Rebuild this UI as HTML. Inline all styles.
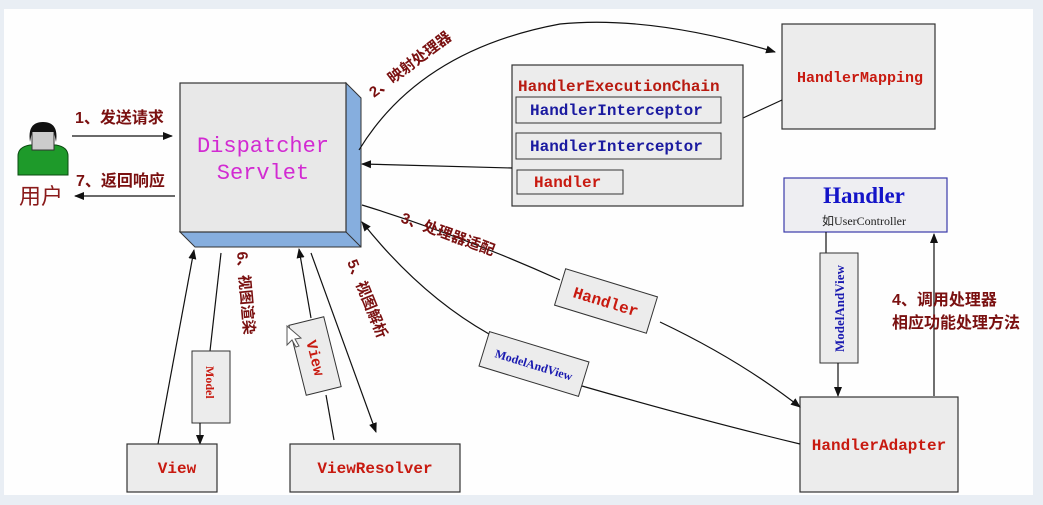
<!DOCTYPE html>
<html><head><meta charset="utf-8"><style>
html,body{margin:0;padding:0;background:#e9eef4;}
svg{display:block}
.m{font-family:"Liberation Mono",monospace;font-weight:bold}
.c{font-family:"Liberation Sans","Noto Sans CJK SC",sans-serif;font-weight:bold;fill:#7a1010}
</style></head><body>
<svg width="1043" height="505" viewBox="0 0 1043 505" xmlns="http://www.w3.org/2000/svg">
<defs>
<marker id="a" viewBox="0 0 10 10" refX="9" refY="5" markerWidth="10" markerHeight="10" orient="auto-start-reverse" markerUnits="userSpaceOnUse"><path d="M0,1 L10,5 L0,9 z" fill="#111"/></marker>
</defs>
<rect x="0" y="0" width="1043" height="505" fill="#e9eef4"/>
<rect x="4" y="9" width="1029" height="486" fill="#fefefe"/>

<!-- user -->
<path d="M18,156 Q18,147 30,145 L56,145 Q68,147 68,156 L68,175 L18,175 z" fill="#1e9a2a" stroke="#0a4a10"/>
<rect x="32" y="130" width="22" height="20" fill="#ccc" stroke="#333"/>
<path d="M30,142 Q27,122 43,122 Q59,122 56,142 L54,132 L32,132 z" fill="#111"/>
<text x="19" y="204" font-family="Liberation Sans,'Noto Sans CJK SC',sans-serif" font-size="22" fill="#8a1a1a">用户</text>

<line x1="72" y1="136" x2="172" y2="136" stroke="#111" stroke-width="1.2" marker-end="url(#a)"/>
<text x="75" y="123" class="c" font-size="16">1、发送请求</text>
<line x1="175" y1="196" x2="75" y2="196" stroke="#111" stroke-width="1.2" marker-end="url(#a)"/>
<text x="76" y="186" class="c" font-size="16">7、返回响应</text>

<!-- dispatcher -->
<path d="M346,83 L361,98 L361,247 L195,247 L180,232 L346,232 z" fill="#86aede" stroke="#333"/>
<line x1="346" y1="232" x2="361" y2="247" stroke="#333"/>
<rect x="180" y="83" width="166" height="149" fill="#e8e8e8" stroke="#333" stroke-width="1.2"/>
<text x="263" y="152" text-anchor="middle" font-family="Liberation Mono,monospace" font-size="22" fill="#d22ad2">Dispatcher</text>
<text x="263" y="179" text-anchor="middle" font-family="Liberation Mono,monospace" font-size="22" fill="#d22ad2">Servlet</text>

<!-- 2 curve -->
<path d="M359,150 Q420,50 560,24 Q650,15 775,52" fill="none" stroke="#111" stroke-width="1.2" marker-end="url(#a)"/>
<text class="c" font-size="15" transform="translate(374,98) rotate(-37)">2、映射处理器</text>

<!-- HandlerMapping -->
<rect x="782" y="24" width="153" height="105" fill="#ececec" stroke="#333" stroke-width="1.2"/>
<text x="860" y="82" text-anchor="middle" class="m" font-size="15" fill="#c81a10">HandlerMapping</text>
<line x1="743" y1="118" x2="782" y2="100" stroke="#111" stroke-width="1.2"/>

<!-- Chain -->
<rect x="512" y="65" width="231" height="141" fill="#ececec" stroke="#333" stroke-width="1.2"/>
<text x="518" y="91" class="m" font-size="16" fill="#b81a10">HandlerExecutionChain</text>
<rect x="516" y="97" width="205" height="26" fill="#ececec" stroke="#333"/>
<text x="530" y="115" class="m" font-size="16" fill="#1a1aa0">HandlerInterceptor</text>
<rect x="516" y="133" width="205" height="26" fill="#ececec" stroke="#333"/>
<text x="530" y="151" class="m" font-size="16" fill="#1a1aa0">HandlerInterceptor</text>
<rect x="517" y="170" width="106" height="24" fill="#ececec" stroke="#333"/>
<text x="534" y="187" class="m" font-size="16" fill="#c81a10">Handler</text>
<line x1="512" y1="168" x2="362" y2="164" stroke="#111" stroke-width="1.2" marker-end="url(#a)"/>

<!-- Handler blue -->
<rect x="784" y="178" width="163" height="54" fill="#eeeef2" stroke="#3a3aaa" stroke-width="1.2"/>
<text x="864" y="203" text-anchor="middle" font-family="Liberation Serif,serif" font-weight="bold" font-size="23" fill="#1414c8">Handler</text>
<text x="864" y="225" text-anchor="middle" font-family="Liberation Serif,'Noto Sans CJK SC',serif" font-size="12" fill="#222">如UserController</text>

<!-- Handler to Adapter -->
<line x1="826" y1="232" x2="826" y2="253" stroke="#111" stroke-width="1.2"/>
<rect x="820" y="253" width="38" height="110" fill="#ececec" stroke="#333"/>
<text font-size="13" font-weight="bold" fill="#1a1ab0" transform="translate(844,352) rotate(-90)" font-family="Liberation Serif,serif">ModelAndView</text>
<line x1="838" y1="363" x2="838" y2="396" stroke="#111" stroke-width="1.2" marker-end="url(#a)"/>
<line x1="934" y1="396" x2="934" y2="234" stroke="#111" stroke-width="1.2" marker-end="url(#a)"/>
<text x="892" y="305" class="c" font-size="16">4、调用处理器</text>
<text x="892" y="328" class="c" font-size="16">相应功能处理方法</text>

<!-- HandlerAdapter -->
<rect x="800" y="397" width="158" height="95" fill="#ececec" stroke="#333" stroke-width="1.2"/>
<text x="879" y="450" text-anchor="middle" class="m" font-size="16" fill="#c81a10">HandlerAdapter</text>

<!-- 3 -->
<path d="M362,205 Q460,235 560,280" fill="none" stroke="#111" stroke-width="1.2"/>
<text class="c" font-size="15" transform="translate(400,222) rotate(20)">3、处理器适配</text>
<path d="M660,322 Q740,360 800,407" fill="none" stroke="#111" stroke-width="1.2" marker-end="url(#a)"/>
<g transform="translate(606,301) rotate(17)">
<rect x="-48" y="-19" width="96" height="38" fill="#ececec" stroke="#333"/>
<text x="0" y="6" text-anchor="middle" class="m" font-size="16" fill="#c81a10">Handler</text>
</g>
<!-- ModelAndView return -->
<path d="M800,444 Q700,420 582,386" fill="none" stroke="#111" stroke-width="1.2"/>
<path d="M489,334 Q420,295 362,222" fill="none" stroke="#111" stroke-width="1.2" marker-end="url(#a)"/>
<g transform="translate(534,364) rotate(17)">
<rect x="-52" y="-18" width="104" height="36" fill="#ececec" stroke="#333"/>
<text x="0" y="5" text-anchor="middle" font-family="Liberation Serif,serif" font-weight="bold" font-size="12" fill="#1a1ab0">ModelAndView</text>
</g>

<!-- view side -->
<line x1="158" y1="444" x2="194" y2="250" stroke="#111" stroke-width="1.2" marker-end="url(#a)"/>
<line x1="221" y1="253" x2="210" y2="351" stroke="#111" stroke-width="1.2"/>
<rect x="192" y="351" width="38" height="72" fill="#ececec" stroke="#333"/>
<text font-size="12" font-weight="bold" fill="#c81a10" transform="translate(206,366) rotate(90)" font-family="Liberation Serif,serif">Model</text>
<line x1="200" y1="423" x2="200" y2="444" stroke="#111" stroke-width="1.2" marker-end="url(#a)"/>
<text class="c" font-size="15" transform="translate(237,252) rotate(85)">6、视图渲染</text>

<line x1="311" y1="318" x2="299" y2="249" stroke="#111" stroke-width="1.2" marker-end="url(#a)"/>
<line x1="326" y1="395" x2="334" y2="440" stroke="#111" stroke-width="1.2"/>
<g transform="translate(315,356) rotate(-14)">
<rect x="-18" y="-36" width="36" height="72" fill="#ececec" stroke="#333"/>
<text class="m" font-size="15" fill="#c81a10" transform="translate(-5,-16) rotate(90)">View</text>
</g>
<line x1="311" y1="253" x2="376" y2="432" stroke="#111" stroke-width="1.2" marker-end="url(#a)"/>
<text class="c" font-size="15" transform="translate(347,262) rotate(68)">5、视图解析</text>
<path d="M287,326 L287,345 L292,340 L296,347 L299,346 L295,339 L301,338 z" fill="#fff" stroke="#555"/>

<rect x="127" y="444" width="90" height="48" fill="#ececec" stroke="#333" stroke-width="1.2"/>
<text x="177" y="473" text-anchor="middle" class="m" font-size="16" fill="#c81a10">View</text>
<rect x="290" y="444" width="170" height="48" fill="#ececec" stroke="#333" stroke-width="1.2"/>
<text x="375" y="473" text-anchor="middle" class="m" font-size="16" fill="#c81a10">ViewResolver</text>
</svg>
</body></html>
